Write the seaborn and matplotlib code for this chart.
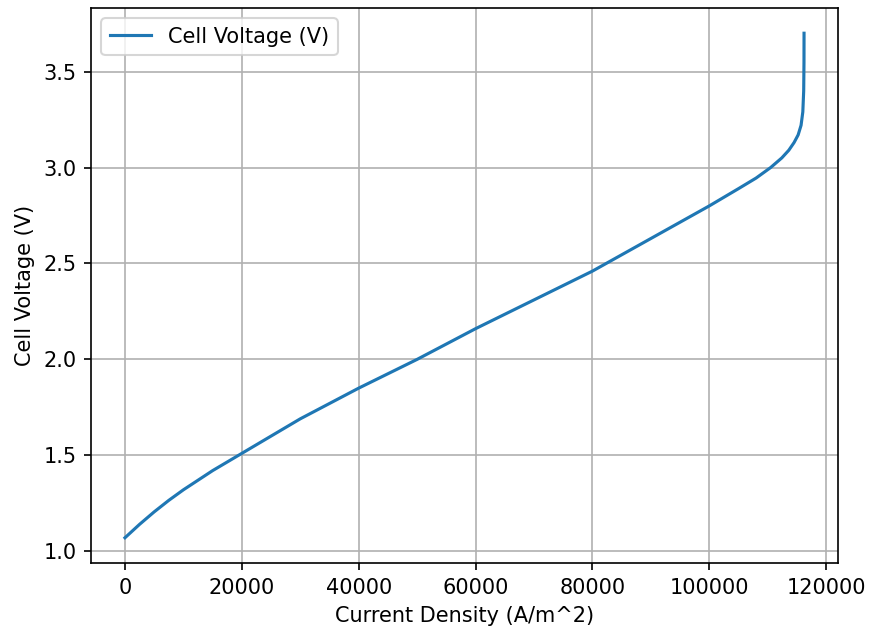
import matplotlib
matplotlib.use("Agg")
import matplotlib.pyplot as plt
import seaborn as sns
import pandas as pd

current_density = [0, 2500, 5000, 7500, 10000, 12500, 15000, 17500, 20000, 25000,
                   30000, 35000, 40000, 50000, 60000, 70000, 80000, 90000, 100000,
                   105000, 108000, 110500, 112400, 113600, 114500, 115200, 115700,
                   116000, 116150, 116200, 116210]
cell_voltage = [1.07, 1.14, 1.205, 1.265, 1.32, 1.37, 1.42, 1.465, 1.51, 1.60,
                1.69, 1.77, 1.85, 2.00, 2.16, 2.31, 2.46, 2.63, 2.80,
                2.89, 2.945, 3.00, 3.05, 3.09, 3.13, 3.17, 3.22,
                3.29, 3.40, 3.55, 3.70]

df = pd.DataFrame({"Current Density (A/m^2)": current_density,
                   "Cell Voltage (V)": cell_voltage})

fig, ax = plt.subplots(figsize=(5.8, 629 / 150), dpi=150)
fig.subplots_adjust(left=91 / 870, right=838 / 870, top=1 - 8 / 629, bottom=1 - 563 / 629)
sns.lineplot(data=df, x="Current Density (A/m^2)", y="Cell Voltage (V)",
             sort=False, estimator=None, color="#1f77b4", linewidth=1.5,
             label="Cell Voltage (V)", ax=ax)
ax.grid(True, color="#b0b0b0", linewidth=0.8)
ax.set_axisbelow(True)
ax.legend(loc="upper left")
fig.savefig("out.png", dpi=150)
